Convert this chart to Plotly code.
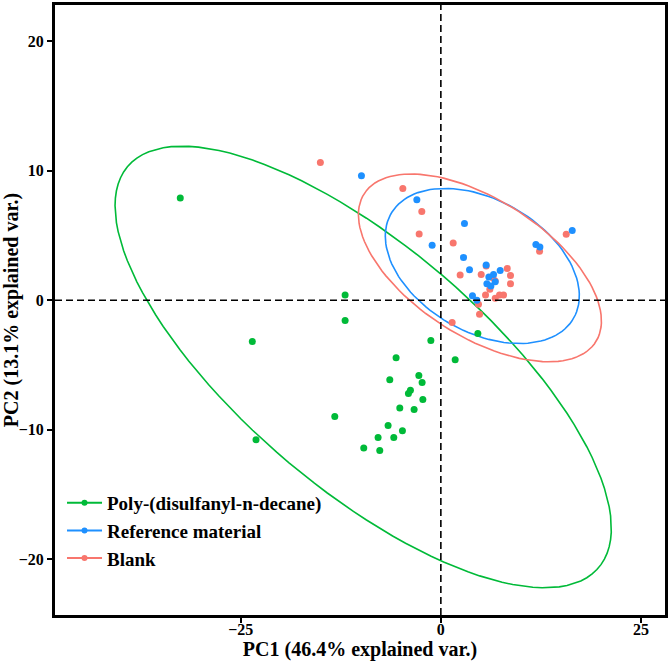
import numpy as np
import plotly.graph_objects as go

# PCA scores
poly_x = [-32.55, -23.55, -23.09, -13.25, -11.96, -11.96, -9.63, -7.84, -7.63, -6.59,
          -6.38, -5.88, -5.59, -5.13, -4.8, -4.05, -3.8, -3.34, -2.75, -2.34,
          -2.25, -1.25, 1.79, 4.62]
poly_y = [7.89, -3.18, -10.77, -8.98, 0.41, -1.57, -11.4, -10.6, -11.6, -9.67,
          -6.13, -10.6, -4.44, -8.31, -10.08, -7.2, -6.95, -8.44, -5.8, -6.34,
          -7.67, -3.1, -4.6, -2.57]

ref_x = [-9.92, -3.0, -1.09, 2.95, 2.83, 3.58, 5.66, 7.41, 6.58, 6.0,
         6.79, 5.75, 6.25, 3.95, 4.5, 11.87, 12.37, 16.41]
ref_y = [9.62, 7.77, 4.25, 5.92, 3.31, 2.36, 2.72, 2.3, 2.0, 1.79,
         1.43, 1.28, 1.1, 0.35, 0.0, 4.31, 4.12, 5.38]

blank_x = [-15.05, -4.75, -2.38, -2.71, 1.54, 15.66, 12.33, 2.41, 5.04, 5.66,
           8.29, 8.7, 8.7, 6.5, 6.79, 6.12, 5.58, 7.33, 7.83, 6.79,
           4.7, 4.83, 1.41]
blank_y = [10.64, 8.64, 6.85, 5.12, 4.43, 5.1, 3.79, 1.95, 2.0, 2.64,
           2.46, 1.92, 1.28, 1.74, 1.48, 0.85, 0.41, 0.41, 0.41, 0.15,
           -0.31, -1.08, -1.72]

groups = ["Poly-(disulfanyl-n-decane)", "Reference material", "Blank"]
colors = ["#00BA38", "#1E90FF", "#F8766D"]

# group ellipses: centre, half-extent in x / y, correlation
ell_cx = [-9.7, 5.18, 4.88]
ell_cy = [-5.15, 2.65, 2.5]
ell_rx = [31.0, 12.12, 15.18]
ell_ry = [17.05, 5.99, 7.25]
ell_r = [-0.73, -0.384, -0.566]


def ellipse(cx, cy, rx, ry, r):
    # ggbiplot style: circle %*% chol(S) + mu
    s = np.array([[rx * rx, r * rx * ry], [r * rx * ry, ry * ry]])
    theta = np.linspace(-np.pi, np.pi, 120)
    circle = np.column_stack([np.cos(theta), np.sin(theta)])
    pts = circle @ np.linalg.cholesky(s).T + np.array([cx, cy])
    return pts[:, 0], pts[:, 1]


fig = go.Figure()
data = [(poly_x, poly_y), (ref_x, ref_y), (blank_x, blank_y)]

for i, col in enumerate(colors):
    ex, ey = ellipse(ell_cx[i], ell_cy[i], ell_rx[i], ell_ry[i], ell_r[i])
    fig.add_trace(go.Scatter(x=ex, y=ey, mode="lines", line=dict(color=col, width=1.6),
                             showlegend=False, hoverinfo="skip"))
for (gx, gy), name, col in list(zip(data, groups, colors))[::-1]:
    fig.add_trace(go.Scatter(x=gx, y=gy, mode="markers", marker=dict(color=col, size=7),
                             name=name, showlegend=False))
# legend keys: point + line like ggplot
for name, col in zip(groups, colors):
    fig.add_trace(go.Scatter(x=[None], y=[None], mode="lines+markers", name=name,
                             line=dict(color=col, width=2), marker=dict(color=col, size=6)))

fig.add_hline(y=0, line=dict(color="black", width=1.6, dash="7px,4px"))
fig.add_vline(x=0, line=dict(color="black", width=1.6, dash="7px,4px"))

serif = "Liberation Serif"
fig.update_layout(
    width=671, height=665,
    margin=dict(l=55, r=6, t=2, b=50),
    plot_bgcolor="white", paper_bgcolor="white",
    font=dict(family=serif, color="black", weight="bold"),
    legend=dict(x=0.0115, y=0.215, xanchor="left", yanchor="top",
                font=dict(size=19, family=serif, color="black", weight="bold"),
                bgcolor="rgba(0,0,0,0)", tracegroupgap=0, itemwidth=35),
)
axis_style = dict(showgrid=False, zeroline=False,
                  showline=True, mirror=True, linecolor="black", linewidth=3,
                  ticks="outside", ticklen=5, tickcolor="black", tickwidth=1.5,
                  tickfont=dict(size=16, family=serif, color="black", weight="bold"))
fig.update_xaxes(range=[-48.2, 28.0], tickvals=[-25, 0, 25], **axis_style,
                 ticklabelstandoff=-7,
                 title=dict(text="PC1 (46.4% explained var.)", standoff=2,
                            font=dict(size=20, family=serif, color="black", weight="bold")))
fig.update_yaxes(range=[-24.3, 22.8], tickvals=[-20, -10, 0, 10, 20], **axis_style,
                 title=dict(text="PC2 (13.1% explained var.)", standoff=1,
                            font=dict(size=20, family=serif, color="black", weight="bold")))

fig.write_html("out.html", config={"displayModeBar": False},
               post_script="document.body.style.margin='0px';")
